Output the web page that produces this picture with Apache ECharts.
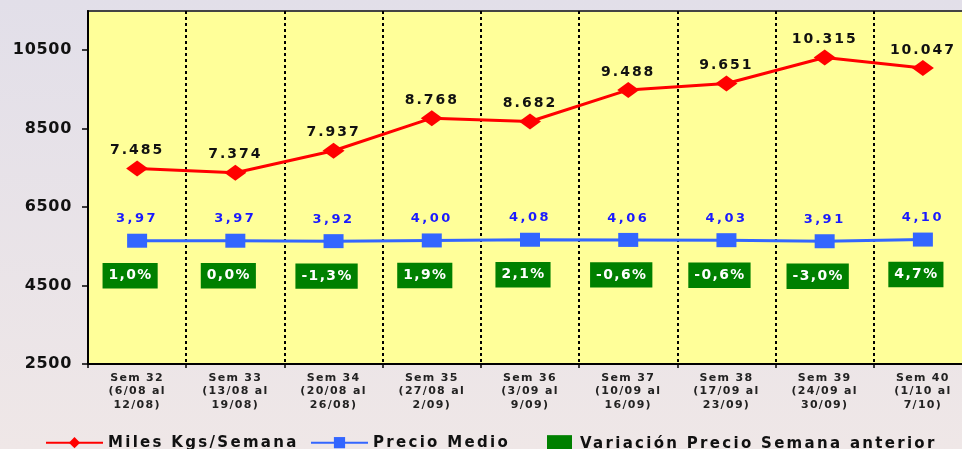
<!DOCTYPE html>
<html>
<head>
<meta charset="utf-8">
<script src="https://cdn.jsdelivr.net/npm/echarts@6/dist/echarts.min.js"></script>
<style>html,body{margin:0;padding:0;overflow:hidden;}#c{width:962px;height:449px;}</style>
</head>
<body>
<div id="c"></div>
<script>
var categories = [
  'Sem 32\n(6/08 al\n12/08)',
  'Sem 33\n(13/08 al\n19/08)',
  'Sem 34\n(20/08 al\n26/08)',
  'Sem 35\n(27/08 al\n2/09)',
  'Sem 36\n(3/09 al\n9/09)',
  'Sem 37\n(10/09 al\n16/09)',
  'Sem 38\n(17/09 al\n23/09)',
  'Sem 39\n(24/09 al\n30/09)',
  'Sem 40\n(1/10 al\n7/10)'
];
var milesKgs = [7485, 7374, 7937, 8768, 8682, 9488, 9651, 10315, 10047];
var precioMedio = [3.97, 3.97, 3.92, 4.00, 4.08, 4.06, 4.03, 3.91, 4.10];
var variacion = [1.0, 0.0, -1.3, 1.9, 2.1, -0.6, -0.6, -3.0, 4.7];
var yTicks = [2500, 4500, 6500, 8500, 10500];
var seriesNames = ['Miles Kgs/Semana', 'Precio Medio', 'Variación Precio Semana anterior'];

// wide letter tracking as in the reference (keyed by font size)
(function () {
  var P = CanvasRenderingContext2D.prototype;
  if (!('letterSpacing' in P)) return;
  var table = { '11': 1.3, '13': 2.5, '13.9': 1.4, '14': 2.0, '15': 2.3, '16': 0.7 };
  function sp(ctx) {
    var m = /(\d+(?:\.\d+)?)px/.exec(ctx.font);
    var k = m ? String(parseFloat(m[1])) : '12';
    var v = table[k] != null ? table[k] : 1.5;
    ctx.letterSpacing = v + 'px';
  }
  ['fillText', 'strokeText', 'measureText'].forEach(function (k) {
    var o = P[k];
    P[k] = function () { sp(this); return o.apply(this, arguments); };
  });
})();

var FF = 'DejaVu Sans';
function fmtKgs(v) { return String(v).replace(/\B(?=(\d{3})+(?!\d))/g, '.'); }
function fmtPrice(v) { return v.toFixed(2).replace('.', ','); }
function fmtPct(v) { return v.toFixed(1).replace('.', ',') + '%'; }

var chart = echarts.init(document.getElementById('c'));
chart.setOption({
  animation: false,
  backgroundColor: {
    type: 'linear', x: 0, y: 0, x2: 0, y2: 1,
    colorStops: [{ offset: 0, color: '#e2dfe9' }, { offset: 1, color: '#efe7e7' }]
  },
  grid: {
    left: 88, top: 11, width: 884, height: 353,
    outerBoundsMode: 'none', containLabel: false,
    show: true, backgroundColor: '#ffff99', borderColor: '#444', borderWidth: 2
  },
  legend: [
    {
      left: 40, top: 429, itemWidth: 57, itemHeight: 14,
      data: [seriesNames[0]],
      textStyle: { fontFamily: FF, fontWeight: 'bold', fontSize: 15, color: '#111' }
    },
    {
      left: 305, top: 429, itemWidth: 57, itemHeight: 14,
      data: [seriesNames[1]],
      textStyle: { fontFamily: FF, fontWeight: 'bold', fontSize: 15, color: '#111' }
    },
    {
      left: 542, top: 430, itemWidth: 25, itemHeight: 17,
      data: [{ name: seriesNames[2], icon: 'rect', itemStyle: { color: '#008000', opacity: 1 } }],
      textStyle: { fontFamily: FF, fontWeight: 'bold', fontSize: 15, color: '#111', padding: [0, 0, 0, 3] }
    }
  ],
  xAxis: {
    type: 'category',
    data: categories,
    boundaryGap: true,
    axisLine: { onZero: false, lineStyle: { color: '#000', width: 2 } },
    axisTick: { show: true, length: 4, lineStyle: { color: '#000', width: 1.5 } },
    axisLabel: {
      interval: 0, margin: 7, fontFamily: FF, fontWeight: 'bold', fontSize: 11,
      lineHeight: 13.5, color: '#222'
    },
    splitLine: { show: true, interval: 0, lineStyle: { color: '#000', width: 2, type: [3, 3] } }
  },
  yAxis: [
    {
      type: 'value', min: 2500, max: 11500,
      axisLine: { show: true, lineStyle: { color: '#000', width: 2 } },
      axisTick: { show: true, length: 6, customValues: yTicks, lineStyle: { color: '#000', width: 1.5 } },
      axisLabel: {
        customValues: yTicks, margin: 16, fontFamily: FF, fontWeight: 'bold',
        fontSize: 16, color: '#111',
        formatter: function (v) { return String(v); }
      },
      splitLine: { show: false }
    },
    {
      type: 'value', min: -10, max: 30, show: false,
      splitLine: { show: false }
    }
  ],
  series: [
    {
      name: seriesNames[0], type: 'line', data: milesKgs, z: 4,
      symbol: 'diamond', symbolSize: [22, 16],
      itemStyle: { color: '#ff0000' },
      lineStyle: { color: '#ff0000', width: 3 },
      label: {
        show: true, position: 'top', distance: 2,
        formatter: function (p) { return fmtKgs(p.value); },
        fontFamily: FF, fontWeight: 'bold', fontSize: 14, color: '#111'
      }
    },
    {
      name: seriesNames[1], type: 'line', yAxisIndex: 1, data: precioMedio, z: 3,
      symbol: 'rect', symbolSize: [20, 14],
      itemStyle: { color: '#3366ff' },
      lineStyle: { color: '#3366ff', width: 3 },
      label: {
        show: true, position: 'top', distance: 7,
        formatter: function (p) { return fmtPrice(p.value); },
        fontFamily: FF, fontWeight: 'bold', fontSize: 13, color: '#1a1aff'
      }
    },
    {
      name: seriesNames[2], type: 'scatter', yAxisIndex: 1, data: precioMedio, z: 2,
      symbol: 'rect', symbolSize: 2, silent: true,
      itemStyle: { color: 'rgba(0,0,0,0)', opacity: 1 },
      label: {
        show: true, position: 'inside', offset: [-7, 35],
        formatter: function (p) { return fmtPct(variacion[p.dataIndex]); },
        fontFamily: FF, fontWeight: 'bold', fontSize: 13.9, color: '#ffffff',
        backgroundColor: '#008000', padding: [5, 5, 5, 6]
      }
    }
  ]
});
</script>
</body>
</html>
